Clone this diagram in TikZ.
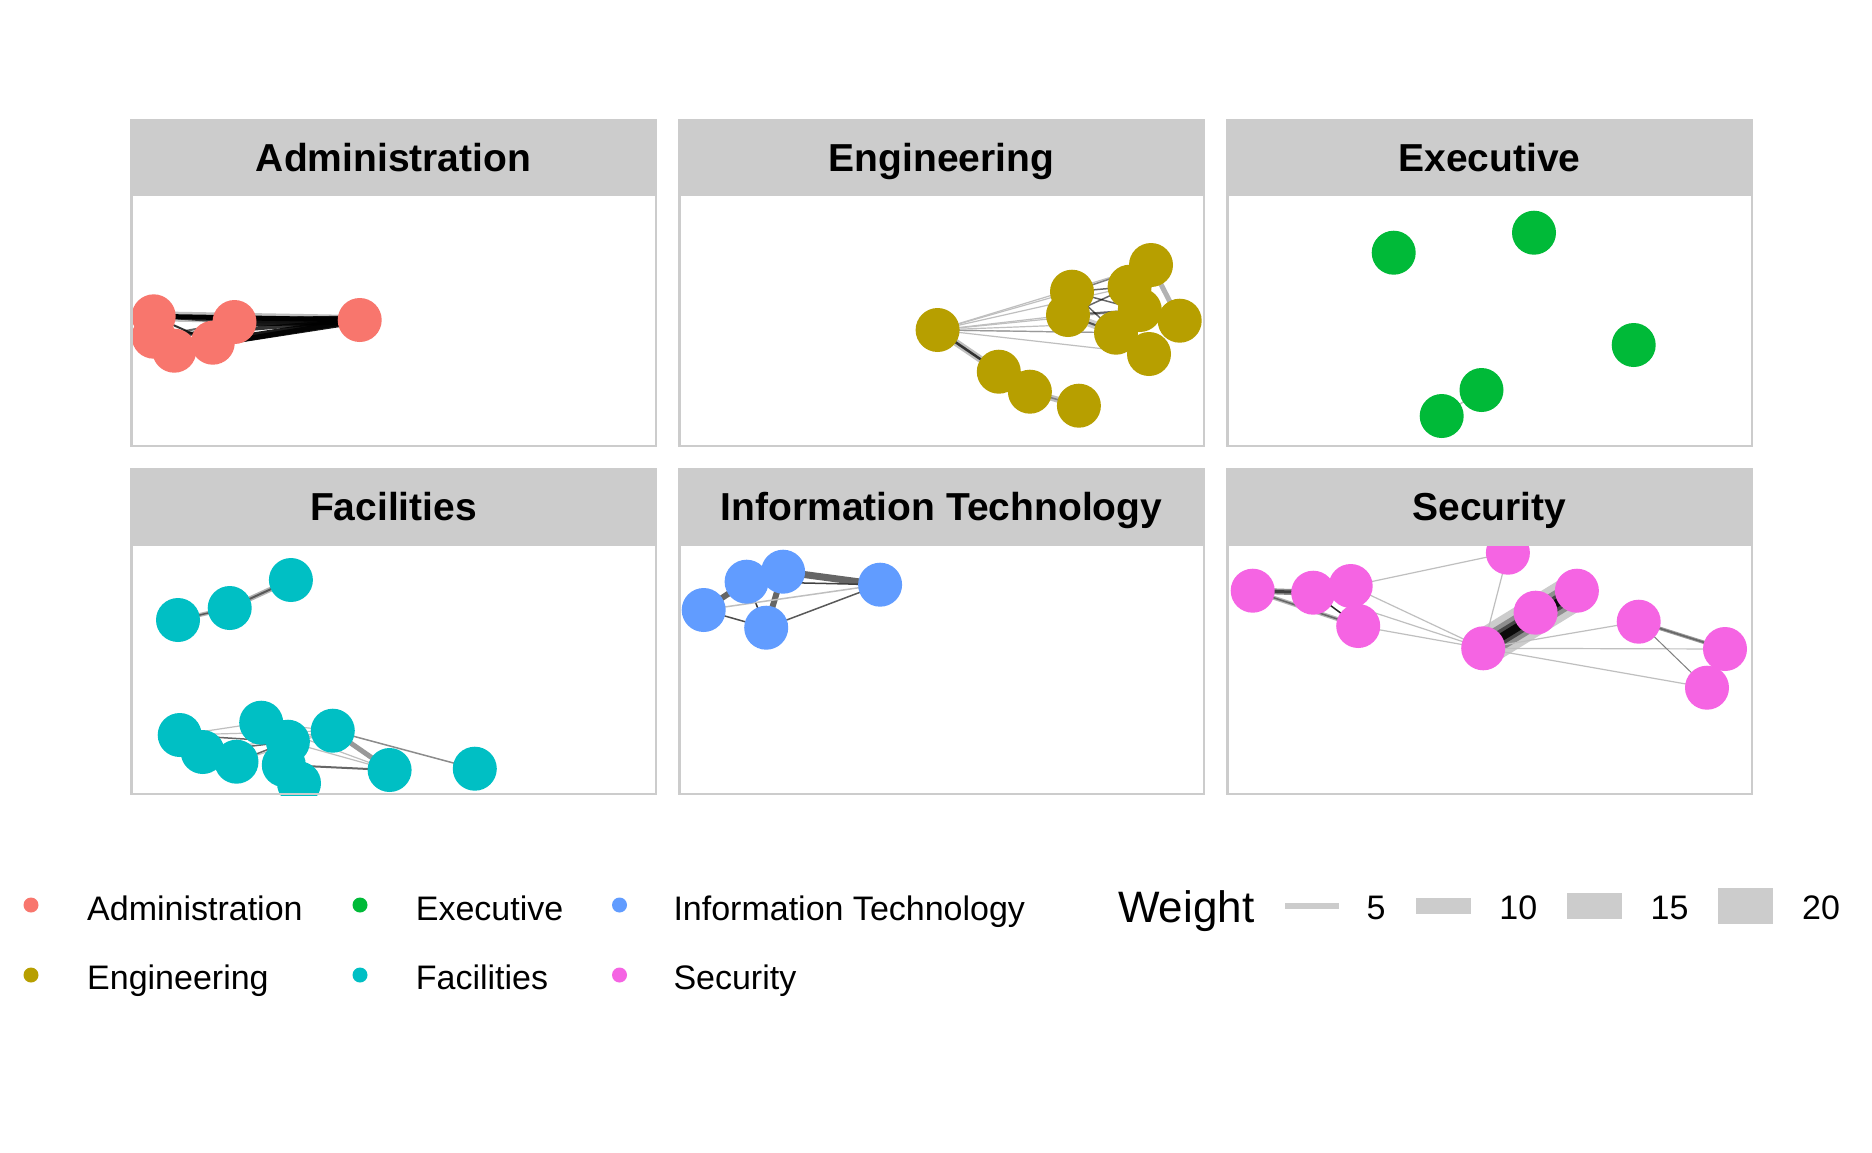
\documentclass[tikz,border=0pt]{standalone}
\usepackage{fontspec}
\setmainfont{Liberation Sans}
\pgfdeclarelayer{bg}
\pgfdeclarelayer{edges}
\pgfsetlayers{bg,edges,main}
\definecolor{cAdm}{HTML}{F8766D}
\definecolor{cEng}{HTML}{B79F00}
\definecolor{cExe}{HTML}{00BA38}
\definecolor{cFac}{HTML}{00BFC4}
\definecolor{cIT}{HTML}{619CFF}
\definecolor{cSec}{HTML}{F564E3}
\definecolor{stripgray}{HTML}{CCCCCC}
\definecolor{bordergray}{HTML}{CCCCCC}
\newcommand{\stripfont}{\fontsize{39}{47}\selectfont\bfseries}
\newcommand{\legfont}{\fontsize{34}{41}\selectfont}
\newcommand{\legtitlefont}{\fontsize{44}{52}\selectfont}
\begin{document}
\begin{tikzpicture}[x=1pt,y=-1pt,
  vtx/.style={circle,inner sep=0pt,minimum size=44pt,fill=#1,draw=none},
  keydot/.style={circle,inner sep=0pt,minimum size=15pt,fill=#1,draw=none},
  panelframe/.style={draw=bordergray,line width=2.5pt},
  striptxt/.style={anchor=base,font=\stripfont,inner sep=0pt},
  legtxt/.style={anchor=base west,font=\legfont,inner sep=0pt},
  wkey/.style={fill=stripgray,draw=none,inner sep=0pt},
  ed/.style={line width=#1},
]
\useasboundingbox (0,0) rectangle (1872,1152);
\begin{pgfonlayer}{bg}
  \fill[white] (0,0) rectangle (1872,1152);
\end{pgfonlayer}

% ---------------- strips ----------------
\fill[stripgray] (130,119) rectangle (657,193);
\fill[stripgray] (678,119) rectangle (1205,193);
\fill[stripgray] (1226,119) rectangle (1753,193);
\fill[stripgray] (130,468) rectangle (657,543);
\fill[stripgray] (678,468) rectangle (1205,543);
\fill[stripgray] (1226,468) rectangle (1753,543);
\node[striptxt] (tAdm) at (393.5,171.5) {Administration};
\node[striptxt] (tEng) at (941.5,171.5) {Engineering};
\node[striptxt] (tExe) at (1489.5,171.5) {Executive};
\node[striptxt] (tFac) at (393.5,520.5) {Facilities};
\node[striptxt] (tIT) at (941.5,520.5) {Information Technology};
\node[striptxt] (tSec) at (1489.5,520.5) {Security};

% ---------------- Administration ----------------
\begin{scope}
  \clip (130,193) rectangle (657,447);
  \node[vtx=cAdm] (A6) at (359.7,320) {};
  \node[vtx=cAdm] (A2) at (153.7,336.7) {};
  \node[vtx=cAdm] (A1) at (153.7,316.3) {};
  \node[vtx=cAdm] (A5) at (174.3,350.7) {};
  \node[vtx=cAdm] (A4) at (212.8,342.7) {};
  \node[vtx=cAdm] (A3) at (234.5,322) {};
\end{scope}
\begin{pgfonlayer}{edges}
\begin{scope}
  \clip (130,193) rectangle (657,447);
  \draw[ed=10,black!25] (A1.center) -- (A6.center);
  \draw[ed=5,black] (A1.center) -- (A6.center);
  \draw[ed=9,black,opacity=.9] (A3.center) -- (A6.center);
  \draw[ed=8,black,opacity=.9] (A4.center) -- (A6.center);
  \draw[ed=5,black,opacity=.85] (A5.center) -- (A6.center);
  \draw[ed=4,black,opacity=.8] (A2.center) -- (A6.center);
  \draw[ed=3,black,opacity=.7] (A1.center) -- (A3.center);
  \draw[ed=2,black,opacity=.8] (A1.center) -- (A4.center);
  \draw[ed=2,black,opacity=.6] (A2.center) -- (A3.center);
\end{scope}
\end{pgfonlayer}
\draw[panelframe] (131.25,194.25) rectangle (655.75,445.75);

% ---------------- Engineering ----------------
\begin{scope}
  \clip (678,193) rectangle (1205,447);
  \node[vtx=cEng] (E1) at (937.6,330) {};
  \node[vtx=cEng] (E2) at (998.8,371.7) {};
  \node[vtx=cEng] (E3) at (1029.9,391.7) {};
  \node[vtx=cEng] (E4) at (1078.9,405.7) {};
  \node[vtx=cEng] (E11) at (1129.6,286.7) {};
  \node[vtx=cEng] (E12) at (1139.8,310) {};
  \node[vtx=cEng] (E5) at (1072,291.7) {};
  \node[vtx=cEng] (E6) at (1068,315) {};
  \node[vtx=cEng] (E7) at (1151,265) {};
  \node[vtx=cEng] (E8) at (1179.7,320.7) {};
  \node[vtx=cEng] (E10) at (1116,332.7) {};
  \node[vtx=cEng] (E9) at (1149,354) {};
\end{scope}
\begin{pgfonlayer}{edges}
\begin{scope}
  \clip (678,193) rectangle (1205,447);
  \foreach \t in {E5,E6,E11,E12,E10,E9,E8,E7}
    \draw[ed=1.2,black!25] (E1.center) -- (\t.center);
  \draw[ed=1.2,black!40] (E1.center) -- (E10.center);
  \draw[ed=7,black!25] (E1.center) -- (E2.center);
  \draw[ed=2.5,black!80] (E1.center) -- (E2.center);
  \draw[ed=6,black!25] (E3.center) -- (E4.center);
  \draw[ed=1.5,black!50] (E3.center) -- (E4.center);
  \draw[ed=5,black!30] (E7.center) -- (E8.center);
  \draw[ed=8,black!20] (E6.center) -- (E10.center);
  \draw[ed=1.5,black,opacity=.6] (E5.center) -- (E11.center);
  \draw[ed=1.5,black,opacity=.6] (E5.center) -- (E12.center);
  \draw[ed=1.5,black,opacity=.6] (E6.center) -- (E11.center);
  \draw[ed=2,black,opacity=.6] (E6.center) -- (E12.center);
  \draw[ed=2,black,opacity=.6] (E6.center) -- (E10.center);
  \draw[ed=1.5,black,opacity=.6] (E5.center) -- (E10.center);
  \draw[ed=1.5,black,opacity=.5] (E5.center) -- (E7.center);
\end{scope}
\end{pgfonlayer}
\draw[panelframe] (679.25,194.25) rectangle (1203.75,445.75);

% ---------------- Executive ----------------
\begin{scope}
  \clip (1226,193) rectangle (1753,447);
  \node[vtx=cExe] (X1) at (1393.7,252.7) {};
  \node[vtx=cExe] (X2) at (1534,232.7) {};
  \node[vtx=cExe] (X3) at (1633.7,345) {};
  \node[vtx=cExe] (X4) at (1481.5,390) {};
  \node[vtx=cExe] (X5) at (1441.7,416) {};
\end{scope}
\begin{pgfonlayer}{edges}
  \draw[ed=1.5,black!25] (X4.center) -- (X5.center);
\end{pgfonlayer}
\draw[panelframe] (1227.25,194.25) rectangle (1751.75,445.75);

% ---------------- Facilities ----------------
\begin{scope}
  \clip (130,543) rectangle (657,795);
  \node[vtx=cFac] (F1) at (178,620) {};
  \node[vtx=cFac] (F2) at (229.7,608) {};
  \node[vtx=cFac] (F3) at (290.9,580) {};
  \node[vtx=cFac] (F4) at (179.7,735) {};
  \node[vtx=cFac] (F5) at (202.7,752) {};
  \node[vtx=cFac] (F6) at (236.5,761.7) {};
  \node[vtx=cFac] (F7) at (261.2,722.7) {};
  \node[vtx=cFac] (F8) at (287.9,741.7) {};
  \node[vtx=cFac] (F9) at (283.8,765) {};
  \node[vtx=cFac] (F10) at (299,783.3) {};
  \node[vtx=cFac] (F11) at (332.8,730.7) {};
  \node[vtx=cFac] (F12) at (389.6,770) {};
  \node[vtx=cFac] (F13) at (474.8,768.7) {};
\end{scope}
\begin{pgfonlayer}{edges}
\begin{scope}
  \clip (130,543) rectangle (657,795);
  \draw[ed=4,black!30] (F1.center) -- (F2.center);
  \draw[ed=1.5,black!65] (F1.center) -- (F2.center);
  \draw[ed=5,black!30] (F2.center) -- (F3.center);
  \draw[ed=2,black!65] (F2.center) -- (F3.center);
  \draw[ed=1.2,black!25] (F4.center) -- (F7.center);
  \draw[ed=1.2,black!25] (F4.center) -- (F11.center);
  \draw[ed=1.5,black!60] (F4.center) -- (F8.center);
  \draw[ed=1.2,black!25] (F7.center) -- (F11.center);
  \draw[ed=1.2,black!25] (F7.center) -- (F12.center);
  \draw[ed=1.2,black!25] (F8.center) -- (F12.center);
  \draw[ed=1.2,black!25] (F5.center) -- (F11.center);
  \draw[ed=1.2,black!25] (F6.center) -- (F11.center);
  \draw[ed=1.5,black!25] (F8.center) -- (F11.center);
  \draw[ed=1.2,black!25] (F7.center) -- (F8.center);
  \draw[ed=2,black!60] (F9.center) -- (F12.center);
  \draw[ed=1.5,black!60] (F5.center) -- (F8.center);
  \draw[ed=1.5,black!60] (F6.center) -- (F8.center);
  \draw[ed=5,black!40] (F11.center) -- (F12.center);
  \draw[ed=1.5,black!45] (F11.center) -- (F13.center);
\end{scope}
\end{pgfonlayer}
\draw[panelframe] (131.25,544.25) rectangle (655.75,793.75);

% ---------------- Information Technology ----------------
\begin{scope}
  \clip (678,543) rectangle (1205,795);
  \node[vtx=cIT] (I1) at (703.7,610) {};
  \node[vtx=cIT] (I2) at (746.6,581.7) {};
  \node[vtx=cIT] (I3) at (783.1,571.7) {};
  \node[vtx=cIT] (I4) at (766.2,627.7) {};
  \node[vtx=cIT] (I5) at (880.1,584.7) {};
\end{scope}
\begin{pgfonlayer}{edges}
\begin{scope}
  \clip (678,543) rectangle (1205,795);
  \draw[ed=7,black!60] (I3.center) -- (I5.center);
  \draw[ed=6,black!60] (I1.center) -- (I2.center);
  \draw[ed=6,black!60] (I3.center) -- (I4.center);
  \draw[ed=1.5,black!75] (I2.center) -- (I5.center);
  \draw[ed=1.5,black!70] (I1.center) -- (I4.center);
  \draw[ed=1.5,black!80] (I2.center) -- (I4.center);
  \draw[ed=1.5,black!65] (I4.center) -- (I5.center);
  \draw[ed=1.5,black!25] (I1.center) -- (I5.center);
\end{scope}
\end{pgfonlayer}
\draw[panelframe] (679.25,544.25) rectangle (1203.75,793.75);

% ---------------- Security ----------------
\begin{scope}
  \clip (1226,543) rectangle (1753,795);
  \node[vtx=cSec] (S1) at (1252.7,590.7) {};
  \node[vtx=cSec] (S2) at (1313.2,592.7) {};
  \node[vtx=cSec] (S3) at (1350.7,586) {};
  \node[vtx=cSec] (S4) at (1358.2,626) {};
  \node[vtx=cSec] (S5) at (1507.9,552.7) {};
  \node[vtx=cSec] (S6) at (1483.2,648.3) {};
  \node[vtx=cSec] (S8) at (1576.9,590.7) {};
  \node[vtx=cSec] (S7) at (1535.6,612.7) {};
  \node[vtx=cSec] (S9) at (1638.7,621.7) {};
  \node[vtx=cSec] (S10) at (1725,649) {};
  \node[vtx=cSec] (S11) at (1707,687.7) {};
\end{scope}
\begin{pgfonlayer}{edges}
\begin{scope}
  \clip (1226,543) rectangle (1753,795);
  \draw[ed=37,black!20] (S6.center) -- (S8.center);
  \draw[ed=24,black,opacity=.3] (S6.center) -- (S8.center);
  \draw[ed=15,black,opacity=.5] (S6.center) -- (S8.center);
  \draw[ed=8,black,opacity=.85] (S6.center) -- (S8.center);
  \draw[ed=6,black!45] (S1.center) -- (S2.center);
  \draw[ed=3,black!75] (S1.center) -- (S2.center);
  \draw[ed=4,black!30] (S1.center) -- (S4.center);
  \draw[ed=1.5,black!60] (S1.center) -- (S4.center);
  \draw[ed=1.5,black!85] (S2.center) -- (S4.center);
  \draw[ed=1.2,black!25] (S3.center) -- (S5.center);
  \draw[ed=1.2,black!25] (S5.center) -- (S6.center);
  \draw[ed=1.2,black!25] (S2.center) -- (S6.center);
  \draw[ed=1.2,black!25] (S3.center) -- (S6.center);
  \draw[ed=1.2,black!25] (S4.center) -- (S6.center);
  \draw[ed=1.2,black!25] (S6.center) -- (S9.center);
  \draw[ed=1.2,black!25] (S6.center) -- (S10.center);
  \draw[ed=1.2,black!25] (S6.center) -- (S11.center);
  \draw[ed=3.5,black!40] (S9.center) -- (S10.center);
  \draw[ed=1.5,black!60] (S9.center) -- (S10.center);
  \draw[ed=1,black!50] (S9.center) -- (S11.center);
\end{scope}
\end{pgfonlayer}
\draw[panelframe] (1227.25,544.25) rectangle (1751.75,793.75);

% ---------------- legend ----------------
\node[keydot=cAdm] (kAdm) at (31,905) {};
\node[legtxt] (lAdm) at (87,920) {Administration};
\node[keydot=cEng] (kEng) at (31,975) {};
\node[legtxt] (lEng) at (87,989) {Engineering};
\node[keydot=cExe] (kExe) at (360,905) {};
\node[legtxt] (lExe) at (415.7,920) {Executive};
\node[keydot=cFac] (kFac) at (360,975) {};
\node[legtxt] (lFac) at (415.7,989) {Facilities};
\node[keydot=cIT] (kIT) at (619.5,905) {};
\node[legtxt] (lIT) at (673.3,920) {Information Technology};
\node[keydot=cSec] (kSec) at (619.5,975) {};
\node[legtxt] (lSec) at (673.3,989) {Security};

\node[anchor=base west,font=\legtitlefont,inner sep=0pt] (wTitle) at (1118,922.7) {Weight};
\node[wkey,minimum width=54pt,minimum height=6pt] (w5) at (1311.7,905.7) {};
\node[legtxt] (n5) at (1366.5,919.3) {5};
\node[wkey,minimum width=54.7pt,minimum height=15.7pt] (w10) at (1443.4,905.9) {};
\node[legtxt] (n10) at (1499.2,919.3) {10};
\node[wkey,minimum width=55pt,minimum height=26pt] (w15) at (1594.5,906) {};
\node[legtxt] (n15) at (1650.4,919.3) {15};
\node[wkey,minimum width=55pt,minimum height=36pt] (w20) at (1745.5,906) {};
\node[legtxt] (n20) at (1802,919.3) {20};
\end{tikzpicture}
\end{document}
